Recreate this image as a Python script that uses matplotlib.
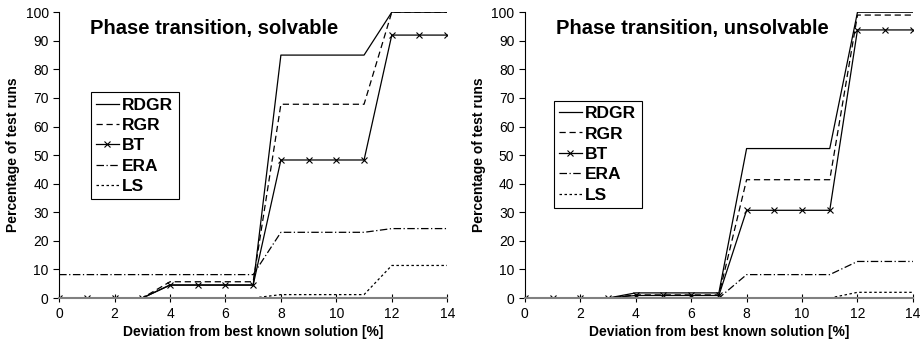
import matplotlib
matplotlib.use("Agg")
import matplotlib.pyplot as plt

plt.rcParams['font.family'] = ['Liberation Sans', 'DejaVu Sans']

# deviation from best known solution [%]
x = list(range(15))

# phase transition, solvable
sol_rdgr = [0, 0, 0, 0, 4.5, 4.5, 4.5, 4.5, 85, 85, 85, 85, 100, 100, 100]
sol_rgr = [0, 0, 0, 0, 5.7, 5.7, 5.7, 5.7, 67.8, 67.8, 67.8, 67.8, 100, 100, 100]
sol_bt = [0, 0, 0, 0, 4.6, 4.6, 4.6, 4.6, 48.3, 48.3, 48.3, 48.3, 92, 92, 92]
sol_era = [8.2, 8.2, 8.2, 8.2, 8.2, 8.2, 8.2, 8.2, 23, 23, 23, 23, 24.3, 24.3, 24.3]
sol_ls = [0, 0, 0, 0, 0, 0, 0, 0, 1.2, 1.2, 1.2, 1.2, 11.4, 11.4, 11.4]

# phase transition, unsolvable
uns_rdgr = [0, 0, 0, 0, 1.8, 1.8, 1.8, 1.8, 52.3, 52.3, 52.3, 52.3, 100, 100, 100]
uns_rgr = [0, 0, 0, 0, 1.1, 1.1, 1.1, 1.1, 41.4, 41.4, 41.4, 41.4, 99, 99, 99]
uns_bt = [0, 0, 0, 0, 0.9, 0.9, 0.9, 0.9, 30.7, 30.7, 30.7, 30.7, 93.8, 93.8, 93.8]
uns_era = [0, 0, 0, 0, 0, 0, 0, 0, 8.2, 8.2, 8.2, 8.2, 12.8, 12.8, 12.8]
uns_ls = [0, 0, 0, 0, 0, 0, 0, 0, 0, 0, 0, 0, 2, 2, 2]

labels = ["RDGR", "RGR", "BT", "ERA", "LS"]


def draw_panel(ax, series, title, leg_anchor):
    styles = [
        dict(ls='-'),
        dict(ls=(0, (5, 3))),
        dict(ls='-', marker='x', ms=4, mew=0.8),
        dict(ls=(0, (6, 2, 1, 2))),
        dict(ls=(0, (2, 2))),
    ]
    for y, lab, st in zip(series, labels, styles):
        ax.plot(x, y, color='black', lw=0.9, label=lab, **st)

    ax.set_xlim(0, 14)
    ax.set_ylim(0, 100)
    ax.set_xticks(range(0, 15, 2))
    ax.set_yticks(range(0, 101, 10))
    ax.spines['top'].set_visible(False)
    ax.spines['right'].set_visible(False)
    ax.spines['bottom'].set_color('#808080')
    ax.spines['bottom'].set_linewidth(1.5)
    ax.tick_params(axis='x', direction='inout', length=6, labelsize=10)
    ax.tick_params(axis='y', direction='out', length=4, labelsize=10)
    ax.set_xlabel("Deviation from best known solution [%]", fontsize=10,
                  fontweight='bold', labelpad=3)
    ax.set_ylabel("Percentage of test runs", fontsize=10, fontweight='bold')
    ax.text(0.08, 0.975, title, transform=ax.transAxes, fontsize=14.5,
            fontweight='bold', va='top', ha='left')
    leg = ax.legend(loc='upper left', bbox_to_anchor=leg_anchor, fancybox=False,
                    edgecolor='black', framealpha=1, prop={'weight': 'bold', 'size': 12.5},
                    handlelength=1.3, handletextpad=0.2, labelspacing=0.3,
                    borderpad=0.3, borderaxespad=0)
    leg.get_frame().set_linewidth(0.8)


fig = plt.figure(figsize=(9.24, 3.49), dpi=100)
ax1 = fig.add_axes([0.064, 0.146, 0.42, 0.819])
ax2 = fig.add_axes([0.568, 0.146, 0.42, 0.819])

draw_panel(ax1, [sol_rdgr, sol_rgr, sol_bt, sol_era, sol_ls],
           "Phase transition, solvable", (0.082, 0.72))
draw_panel(ax2, [uns_rdgr, uns_rgr, uns_bt, uns_era, uns_ls],
           "Phase transition, unsolvable", (0.075, 0.69))

fig.savefig("out.png", dpi=100)
